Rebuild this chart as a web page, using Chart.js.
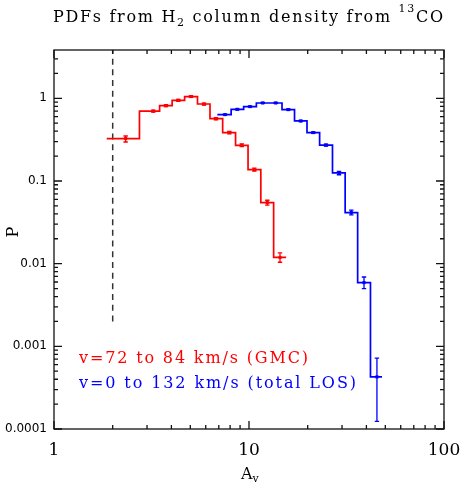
<!DOCTYPE html>
<html><head><meta charset="utf-8">
<script src="https://cdn.jsdelivr.net/npm/chart.js@4.4.1/dist/chart.umd.min.js"></script>
<style>html,body{margin:0;padding:0;background:#fff;overflow:hidden}#wrap{position:relative;width:461px;height:483px}</style>
</head><body><div id="wrap"><canvas id="c" width="461" height="483"></canvas></div>
<script>
// ---- data ----
const redAv  = [2.33, 3.23, 3.75, 4.34, 5.04, 5.88, 6.77, 7.93, 9.18, 10.65, 12.41, 14.42];
const redP   = [0.326, 0.70, 0.816, 0.946, 1.05, 0.853, 0.568, 0.385, 0.270, 0.137, 0.0548, 0.0119];
const redLo  = [0.296, 0.68, 0.795, 0.92, 1.025, 0.83, 0.55, 0.372, 0.260, 0.132, 0.0510, 0.0104];
const redHi  = [0.350, 0.72, 0.838, 0.97, 1.078, 0.876, 0.585, 0.398, 0.281, 0.143, 0.0585, 0.0135];
const redRange = [1.864, 15.5];

const blueAv = [7.53, 8.71, 10.12, 11.76, 13.71, 15.91, 18.42, 21.36, 24.82, 28.94, 33.47, 38.88, 45.3];
const blueP  = [0.635, 0.736, 0.794, 0.878, 0.878, 0.730, 0.532, 0.385, 0.272, 0.125, 0.0415, 0.0059, 0.000427];
const blueLo = [0.625, 0.725, 0.782, 0.866, 0.866, 0.718, 0.522, 0.377, 0.265, 0.119, 0.0388, 0.0050, 0.000124];
const blueHi = [0.645, 0.747, 0.806, 0.890, 0.890, 0.742, 0.542, 0.393, 0.279, 0.131, 0.0445, 0.0069, 0.00072];
const blueRange = [6.88, 48.1];

const cutAv = 2;
const cutP = [0.002, 3.84];

const xTicks = [1, 10, 100];
const xTickLabels = ['1', '10', '100'];
const yTicks = [0.0001, 0.001, 0.01, 0.1, 1];
const yTickLabels = ['0.0001', '0.001', '0.01', '0.1', '1'];
const yRange = [0.0001, 3.84];
const xRange = [1, 100];

const RED = '#ff0000', BLUE = '#0000ff';
const SERIF = '"DejaVu Serif", serif';

function stepPoints(av, p, range) {
  const pts = [{x: range[0], y: p[0]}];
  av.forEach((a, i) => pts.push({x: a, y: p[i]}));
  pts.push({x: range[1], y: p[p.length - 1]});
  return pts;
}
function pts(av, p) { return av.map((a, i) => ({x: a, y: p[i]})); }

function drawSegs(ctx, segs, x, y, target, color) {
  ctx.save();
  ctx.fillStyle = color;
  ctx.textBaseline = 'alphabetic';
  ctx.textAlign = 'left';
  let w = 0, n = 0;
  const hasLS = ('letterSpacing' in ctx);
  segs.forEach(s => {
    ctx.font = s.size + 'px ' + SERIF;
    if (hasLS) ctx.letterSpacing = '0px';
    s.w = ctx.measureText(s.t).width; w += s.w; n += s.t.length;
  });
  const ls = (target && hasLS) ? (target - w) / (n - 1) : 0;
  let cx = x;
  segs.forEach(s => {
    ctx.font = s.size + 'px ' + SERIF;
    if (hasLS) ctx.letterSpacing = ls + 'px';
    ctx.fillText(s.t, cx, y + (s.dy || 0));
    cx += s.w + ls * s.t.length;
  });
  ctx.restore();
}

const decor = {
  id: 'decor',
  afterDatasetsDraw(chart) {
    const ctx = chart.ctx, xs = chart.scales.x, ys = chart.scales.y;
    const drawErr = (av, lo, hi, color) => {
      ctx.save();
      ctx.strokeStyle = color; ctx.lineWidth = 1.3;
      av.forEach((a, i) => {
        const px = xs.getPixelForValue(a);
        const y1 = ys.getPixelForValue(lo[i]), y2 = ys.getPixelForValue(hi[i]);
        ctx.beginPath();
        ctx.moveTo(px, y1); ctx.lineTo(px, y2);
        ctx.moveTo(px - 2.2, y1); ctx.lineTo(px + 2.2, y1);
        ctx.moveTo(px - 2.2, y2); ctx.lineTo(px + 2.2, y2);
        ctx.stroke();
      });
      ctx.restore();
    };
    drawErr(redAv, redLo, redHi, RED);
    drawErr(blueAv, blueLo, blueHi, BLUE);
  },
  afterDraw(chart) {
    const ctx = chart.ctx, xs = chart.scales.x, ys = chart.scales.y;
    const a = chart.chartArea;
    ctx.save();
    ctx.strokeStyle = '#111'; ctx.lineWidth = 1.3;
    ctx.strokeRect(a.left, a.top, a.right - a.left, a.bottom - a.top);
    ctx.beginPath();
    for (let d = 0; d <= 2; d++) {
      for (let k = 1; k <= 9; k++) {
        const v = k * Math.pow(10, d);
        if (v < xRange[0] || v > xRange[1]) continue;
        const px = xs.getPixelForValue(v);
        const L = k === 1 ? 8 : 4;
        ctx.moveTo(px, a.bottom); ctx.lineTo(px, a.bottom - L);
        ctx.moveTo(px, a.top); ctx.lineTo(px, a.top + L);
      }
    }
    for (let d = -4; d <= 0; d++) {
      for (let k = 1; k <= 9; k++) {
        const v = k * Math.pow(10, d);
        if (v < yRange[0] * 0.999 || v > yRange[1]) continue;
        const py = ys.getPixelForValue(v);
        const L = k === 1 ? 8 : 4;
        ctx.moveTo(a.left, py); ctx.lineTo(a.left + L, py);
        ctx.moveTo(a.right, py); ctx.lineTo(a.right - L, py);
      }
    }
    ctx.stroke();
    ctx.restore();

    drawSegs(ctx, [
      {t: 'PDFs from H', size: 16},
      {t: '2', size: 11, dy: 4},
      {t: ' column density from ', size: 16},
      {t: '13', size: 11, dy: -10},
      {t: 'CO', size: 16}
    ], 53, 21.5, 390, '#000');

    drawSegs(ctx, [{t: 'v=72 to 84 km/s (GMC)', size: 16}], 79, 363.3, 229, RED);
    drawSegs(ctx, [{t: 'v=0 to 132 km/s (total LOS)', size: 16}], 79, 388.3, 277, BLUE);

    drawSegs(ctx, [{t: 'A', size: 16}, {t: 'v', size: 11, dy: 3}], 241, 479, 0, '#000');

    ctx.save();
    ctx.translate(18, 232);
    ctx.rotate(-Math.PI / 2);
    ctx.font = '16px ' + SERIF; ctx.fillStyle = '#000';
    ctx.textAlign = 'center'; ctx.textBaseline = 'alphabetic';
    ctx.fillText('P', 0, 0);
    ctx.restore();
  }
};

new Chart(document.getElementById('c'), {
  type: 'scatter',
  data: {
    datasets: [
      {type: 'scatter', data: pts(redAv, redP), pointStyle: 'rect', pointRadius: 2.2, backgroundColor: RED, borderWidth: 0},
      {type: 'scatter', data: pts(blueAv, blueP), pointStyle: 'rect', pointRadius: 2.2, backgroundColor: BLUE, borderWidth: 0},
      {type: 'line', data: stepPoints(redAv, redP, redRange), stepped: 'middle', borderColor: RED, borderWidth: 1.7, pointRadius: 0, fill: false},
      {type: 'line', data: stepPoints(blueAv, blueP, blueRange), stepped: 'middle', borderColor: BLUE, borderWidth: 1.7, pointRadius: 0, fill: false},
      {type: 'line', data: [{x: cutAv, y: cutP[0]}, {x: cutAv, y: cutP[1]}], borderColor: '#333', borderWidth: 1.5, borderDash: [6, 4.7], pointRadius: 0, fill: false}
    ]
  },
  options: {
    responsive: false,
    animation: false,
    events: [],
    layout: {padding: {top: 50, right: 17, left: 0, bottom: 0}},
    plugins: {legend: {display: false}, tooltip: {enabled: false}, title: {display: false}},
    scales: {
      x: {
        type: 'logarithmic', min: xRange[0], max: xRange[1], position: 'bottom',
        grid: {display: false, drawTicks: false}, border: {display: false},
        ticks: {font: {family: SERIF, size: 17}, color: '#000', padding: 11, maxRotation: 0, autoSkip: false,
          callback: (v, i) => xTickLabels[i]},
        afterBuildTicks: s => { s.ticks = xTicks.map(v => ({value: v})); },
        afterFit: s => { s.height = 54; s.paddingRight = 0; s.paddingLeft = 0; }
      },
      y: {
        type: 'logarithmic', min: yRange[0], max: yRange[1],
        grid: {display: false, drawTicks: false}, border: {display: false},
        ticks: {font: {family: '"DejaVu Sans", sans-serif', size: 12}, color: '#000', padding: 7, autoSkip: false,
          callback: (v, i) => yTickLabels[i]},
        afterBuildTicks: s => { s.ticks = yTicks.map(v => ({value: v})); },
        afterFit: s => { s.width = 54; s.paddingTop = 0; s.paddingBottom = 0; }
      }
    }
  },
  plugins: [decor]
});
</script>
</body></html>
